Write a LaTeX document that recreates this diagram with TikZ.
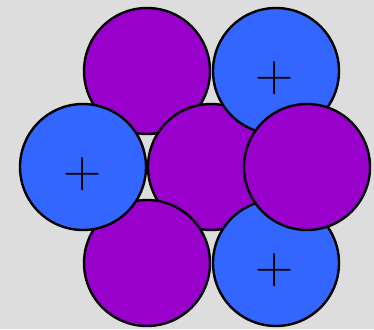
\documentclass[tikz,border=0pt]{standalone}
\definecolor{bg}{HTML}{DDDDDD}
\definecolor{pur}{HTML}{9900CC}
\definecolor{blu}{HTML}{3366FF}
\tikzset{
  ball/.style={circle, draw=black, line width=2.4pt, minimum size=126pt, inner sep=0pt},
  pball/.style={ball, fill=pur},
  bball/.style={ball, fill=blu},
  plus/.style={inner sep=0pt, font=\fontsize{53}{53}\selectfont}
}
\begin{document}
\begin{tikzpicture}[x=1pt,y=-1pt]
\fill[bg] (0,0) rectangle (374,329);
\useasboundingbox (0,0) rectangle (374,329);
\node[pball] (tl) at (147,71) {};
\node[pball] (c) at (211,167) {};
\node[bball] (tr) at (276,71) {};
\node[pball] (bl) at (147,263) {};
\node[bball] (br) at (276,263) {};
\node[bball] (l) at (83,167) {};
\node[pball] (r) at (307,167) {};
\node[plus] (ptr) at (275,78) {+};
\node[plus] (pbr) at (275,270) {+};
\node[plus] (pl) at (83,174.5) {+};
\end{tikzpicture}
\end{document}
